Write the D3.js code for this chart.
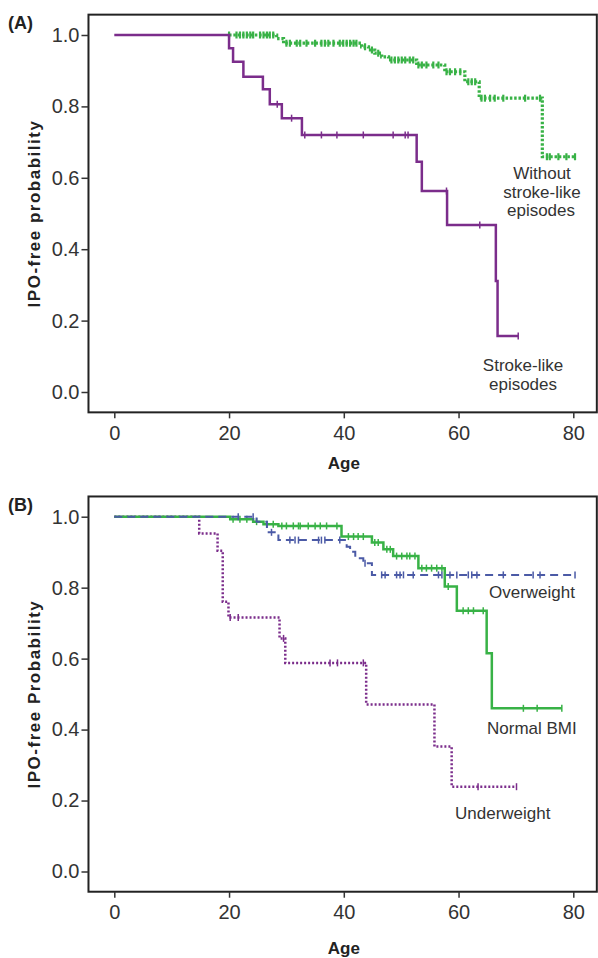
<!DOCTYPE html>
<html lang="en">
<head>
<meta charset="UTF-8">
<title>IPO-free probability by age</title>
<script src="https://d3js.org/d3.v7.min.js"></script>
<style>
  body { margin: 0; background: #fff; }
  svg { display: block; font-family: "Liberation Sans", Arial, sans-serif; }
  .tick text { fill: #333; font-size: 20px; }
  .tick line { stroke: #333; stroke-width: 1.5; }
  .lbl { fill: #333; font-size: 17px; }
  .ttl { fill: #222; font-size: 17px; font-weight: bold; }
  .ytl { letter-spacing: 1.5px; }
  .tag { font-size: 18px; }
</style>
</head>
<body>
<svg id="chart" width="598" height="958"></svg>
<script>
// ticks
const ageTicks = [0, 20, 40, 60, 80];
const probTicks = [0, 0.2, 0.4, 0.6, 0.8, 1.0];

// (A) stroke-like episodes
const strokeTimes = [0, 20.0, 20.7, 22.5, 25.9, 27.1, 29.2, 32.7, 52.7, 53.6, 58.0, 66.5, 66.8];
const strokeSurv  = [1.0, 0.963, 0.925, 0.883, 0.848, 0.806, 0.767, 0.72, 0.645, 0.563, 0.468, 0.311, 0.157];
const strokeEnd = 70.4;
const strokeCensor = [28.4, 30.9, 33.2, 36.1, 38.8, 43.4, 48.6, 50.7, 51.2, 57.9, 63.7, 70.4];

// (A) without stroke-like episodes
const noStrokeTimes = [20.0, 28.3, 29.5, 43.1, 44.3, 45.4, 46.6, 47.8, 52.7, 57.6, 61.1, 63.6, 74.6];
const noStrokeSurv  = [1.0, 0.99, 0.977, 0.967, 0.958, 0.949, 0.939, 0.93, 0.916, 0.897, 0.869, 0.823, 0.659];
const noStrokeEnd = 80.3;
const noStrokeCensor = [20.0, 21.3, 21.9, 22.5, 23.1, 23.7, 24.2, 25.4, 26.0, 26.6, 27.1, 27.7,
  30.0, 30.6, 31.8, 32.4, 33.5, 35.0, 36.1, 36.7, 37.3, 38.2, 39.3, 39.9, 40.5, 41.1, 41.7, 42.2,
  43.7, 44.9, 46.0, 48.3, 48.9, 49.5, 50.1, 50.7, 51.5, 52.1, 53.0, 53.6, 54.4, 55.6, 56.5,
  57.9, 58.5, 59.4, 60.3, 61.7, 62.3, 62.9, 64.0, 64.6, 65.5, 66.3, 67.8, 71.6, 74.2,
  75.4, 75.9, 77.4, 78.8, 80.3];

// (B) underweight
const underTimes = [0, 14.8, 18.0, 18.9, 19.9, 28.8, 29.8, 43.9, 55.8, 58.8];
const underSurv  = [1.0, 0.953, 0.904, 0.76, 0.716, 0.657, 0.588, 0.471, 0.352, 0.239];
const underEnd = 70.1;
const underCensor = [20.2, 21.6, 29.5, 37.6, 38.9, 43.4, 63.4, 70.1];

// (B) normal BMI
const normalTimes = [0, 20.2, 24.2, 26.0, 28.6, 39.6, 44.9, 46.9, 48.6, 53.0, 57.6, 59.7, 64.9, 65.8];
const normalSurv  = [1.0, 0.993, 0.986, 0.979, 0.974, 0.944, 0.927, 0.908, 0.889, 0.855, 0.803, 0.735, 0.615, 0.46];
const normalEnd = 78.0;
const normalCensor = [20.7, 21.9, 23.1, 24.8, 26.6, 27.7, 29.2, 30.0, 31.2, 32.1, 32.4, 33.8, 35.0,
  35.9, 37.0, 38.8, 40.8, 41.7, 42.5, 43.4, 45.4, 46.0, 47.5, 48.1, 49.2, 50.1, 51.0, 51.5, 52.4,
  53.6, 54.4, 55.3, 56.2, 57.1, 58.2, 60.8, 61.7, 62.6, 64.3, 71.3, 73.7, 78.0];

// (B) overweight
const overTimes = [0, 24.8, 26.6, 28.6, 40.5, 41.1, 42.0, 43.4, 44.9];
const overSurv  = [1.0, 0.986, 0.956, 0.934, 0.915, 0.901, 0.883, 0.869, 0.836];
const overEnd = 80.3;
const overCensor = [21.6, 24.2, 27.4, 30.6, 31.5, 32.1, 35.6, 36.1, 36.7, 39.3, 43.7, 46.6, 47.2,
  49.2, 49.8, 50.4, 52.1, 56.5, 57.1, 58.5, 59.7, 61.7, 62.3, 63.2, 67.8, 73.0, 74.2, 80.3];

const GREEN = "#38b246", PURPLE = "#7b2d8b", BLUE = "#4b5aa6";

const svg = d3.select("#chart");

function survAt(times, surv, t) {
  let s = surv[0];
  for (let i = 0; i < times.length; i++) if (times[i] <= t + 1e-9) s = surv[i];
  return s;
}

function drawPanel(opt) {
  const x = d3.scaleLinear().domain([0, 80]).range([114.3, 573.3]);
  const y = d3.scaleLinear().domain([0, 1]).range(opt.yRange);
  const g = svg.append("g");

  const fx0 = x(-4.5), fx1 = x(84.1), fy0 = y(1.057), fy1 = y(-0.057);

  g.append("rect")
    .attr("x", fx0).attr("y", fy0)
    .attr("width", fx1 - fx0).attr("height", fy1 - fy0)
    .attr("fill", "none").attr("stroke", "#222").attr("stroke-width", 2);

  const yAxis = g.append("g")
    .attr("transform", `translate(${fx0},0)`)
    .call(d3.axisLeft(y).tickValues(probTicks).tickFormat(d3.format(".1f")).tickSize(7).tickPadding(2));
  yAxis.select(".domain").remove();

  const xAxis = g.append("g")
    .attr("transform", `translate(0,${fy1})`)
    .call(d3.axisBottom(x).tickValues(ageTicks).tickSize(6).tickPadding(7));
  xAxis.select(".domain").remove();
  yAxis.selectAll("text").attr("font-family", null).attr("font-size", null);
  xAxis.selectAll("text").attr("font-family", null).attr("font-size", null);

  g.append("text").attr("class", "ttl ytl")
    .attr("transform", `translate(40,${(fy0 + fy1) / 2}) rotate(-90)`)
    .attr("text-anchor", "middle")
    .text(opt.yTitle);

  g.append("text").attr("class", "ttl")
    .attr("x", x(40)).attr("y", opt.ageY)
    .attr("text-anchor", "middle")
    .text("Age");

  g.append("text").attr("class", "ttl tag")
    .attr("x", 8).attr("y", opt.tagY)
    .text(opt.tag);

  const line = d3.line().x(d => x(d[0])).y(d => y(d[1])).curve(d3.curveStepAfter);

  opt.series.forEach(s => {
    const pts = s.times.map((t, i) => [t, s.surv[i]]);
    pts.push([s.end, s.surv[s.surv.length - 1]]);
    g.append("path")
      .attr("d", line(pts))
      .attr("fill", "none")
      .attr("stroke", s.color)
      .attr("stroke-width", s.width)
      .attr("stroke-dasharray", s.dash || null);

    g.append("g").selectAll("line")
      .data(s.censor)
      .join("line")
      .attr("x1", d => x(d)).attr("x2", d => x(d))
      .attr("y1", d => y(survAt(s.times, s.surv, d)) - s.mark)
      .attr("y2", d => y(survAt(s.times, s.surv, d)) + s.mark)
      .attr("stroke", s.color)
      .attr("stroke-width", s.markW);
  });

  opt.labels.forEach(l => {
    g.append("text").attr("class", "lbl")
      .attr("x", l.x).attr("y", l.y)
      .attr("text-anchor", l.anchor)
      .text(l.text);
  });
}

drawPanel({
  yRange: [392, 35],
  yTitle: "IPO-free probability",
  ageY: 469,
  tag: "(A)",
  tagY: 29,
  series: [
    { times: noStrokeTimes, surv: noStrokeSurv, end: noStrokeEnd, censor: noStrokeCensor, color: GREEN, width: 3.2, dash: "2.5,1.8", mark: 3.5, markW: 2.2 },
    { times: strokeTimes, surv: strokeSurv, end: strokeEnd, censor: strokeCensor, color: PURPLE, width: 2.5, mark: 3.5, markW: 1.5 }
  ],
  labels: [
    { text: "Without", x: 542, y: 179, anchor: "middle" },
    { text: "stroke-like", x: 542, y: 197.5, anchor: "middle" },
    { text: "episodes", x: 541, y: 216, anchor: "middle" },
    { text: "Stroke-like", x: 523, y: 371, anchor: "middle" },
    { text: "episodes", x: 523, y: 389.5, anchor: "middle" }
  ]
});

drawPanel({
  yRange: [871.5, 516.7],
  yTitle: "IPO-free Probability",
  ageY: 954,
  tag: "(B)",
  tagY: 511,
  series: [
    { times: underTimes, surv: underSurv, end: underEnd, censor: underCensor, color: PURPLE, width: 2.5, dash: "2,2", mark: 3.5, markW: 1.5 },
    { times: normalTimes, surv: normalSurv, end: normalEnd, censor: normalCensor, color: GREEN, width: 2.5, mark: 3.5, markW: 1.5 },
    { times: overTimes, surv: overSurv, end: overEnd, censor: overCensor, color: BLUE, width: 2, dash: "8,5", mark: 3.5, markW: 1.5 }
  ],
  labels: [
    { text: "Overweight", x: 489, y: 597.5, anchor: "start" },
    { text: "Normal BMI", x: 487, y: 733.5, anchor: "start" },
    { text: "Underweight", x: 455, y: 819, anchor: "start" }
  ]
});
</script>
</body>
</html>
